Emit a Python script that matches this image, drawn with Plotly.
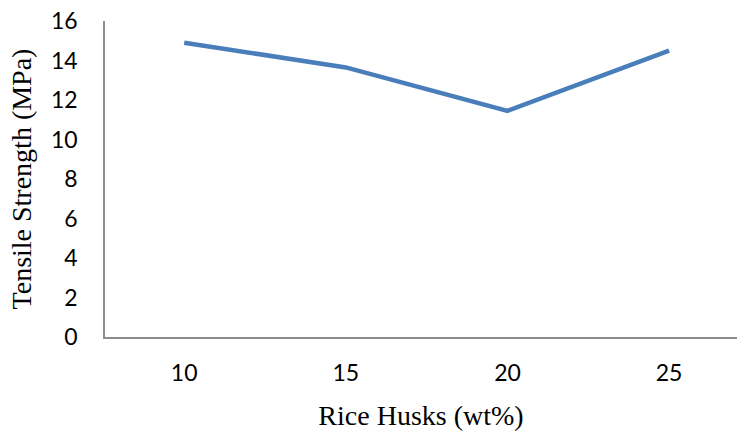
import plotly.graph_objects as go

categories = ["10", "15", "20", "25"]
tensile_strength = [14.9, 13.65, 11.45, 14.5]
y_ticks = [0, 2, 4, 6, 8, 10, 12, 14, 16]

fig = go.Figure()
fig.add_trace(go.Scatter(
    x=categories, y=tensile_strength, mode="lines",
    line=dict(color="#4A7EBB", width=4.5),
    showlegend=False,
))

fig.update_layout(
    width=737, height=431,
    margin=dict(l=105, r=0, t=21, b=94),
    plot_bgcolor="white", paper_bgcolor="white",
    font=dict(family="Lato, Open Sans, sans-serif", size=23, color="black"),
)
fig.update_xaxes(
    type="category", range=[-0.49, 3.42], automargin=False,
    showline=True, linecolor="#8C8C8C", linewidth=1.5,
    showgrid=False, zeroline=False, ticks="",
    ticklabelstandoff=15, ticklabeloverflow="allow",
    title=dict(text="Rice Husks (wt%)", font=dict(family="Liberation Serif, Times New Roman, serif", size=28), standoff=22),
)
fig.update_yaxes(
    range=[0, 16], tickvals=y_ticks, automargin=False,
    showline=True, linecolor="#8C8C8C", linewidth=1.5,
    showgrid=False, zeroline=False, ticks="",
    ticklabelstandoff=21, ticklabeloverflow="allow",
    title=dict(text="Tensile Strength (MPa)", font=dict(family="Liberation Serif, Times New Roman, serif", size=28), standoff=11),
)

fig.write_html("out.html", config={"displayModeBar": False},
               post_script="document.body.style.margin='0';")
